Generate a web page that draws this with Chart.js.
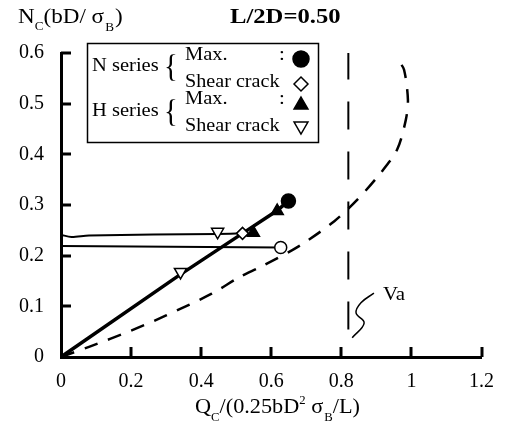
<!DOCTYPE html>
<html>
<head>
<meta charset="utf-8">
<script src="https://cdn.jsdelivr.net/npm/chart.js@4.4.0/dist/chart.umd.min.js"></script>
<style>
  html, body { margin: 0; padding: 0; background: #fff; }
  #wrap { width: 507px; height: 430px; position: relative; }
</style>
</head>
<body>
<div id="wrap"><canvas id="chart"></canvas></div>
<script>
// tick labels
var xTicks = [0, 0.2, 0.4, 0.6, 0.8, 1, 1.2];
var yTicks = [0, 0.1, 0.2, 0.3, 0.4, 0.5, 0.6];
var xTickLabels = ['0', '0.2', '0.4', '0.6', '0.8', '1', '1.2'];
var yTickLabels = ['0', '0.1', '0.2', '0.3', '0.4', '0.5', '0.6'];

// N series
var nMaxX = [0.649];
var nMaxY = [0.308];
var nCrackX = [0.518];
var nCrackY = [0.244];
var nOpenX = [0.627];
var nOpenY = [0.216];

// H series
var hMaxX = [0.549, 0.617];
var hMaxY = [0.245, 0.288];
var hCrackX = [0.341, 0.447];
var hCrackY = [0.168, 0.247];

// test paths
var mainLineX = [0, 0.341, 0.518, 0.617, 0.649];
var mainLineY = [0, 0.163, 0.244, 0.289, 0.308];
var upperLineX = [0, 0.03, 0.08, 0.447, 0.518];
var upperLineY = [0.241, 0.237, 0.240, 0.243, 0.244];
var lowerLineX = [0, 0.627];
var lowerLineY = [0.219, 0.216];

// calculated curve (dashed)
var curveX = [0, 0.08, 0.2, 0.3, 0.43, 0.51, 0.57, 0.66, 0.70, 0.78, 0.845, 0.913, 0.959, 0.984, 0.99, 0.979, 0.963];
var curveY = [0, 0.02, 0.052, 0.082, 0.125, 0.158, 0.178, 0.211, 0.228, 0.268, 0.31, 0.364, 0.409, 0.468, 0.508, 0.567, 0.585];

// Va line (top to bottom) and its pointer
var vaX = [0.82, 0.82];
var vaY = [0.603, 0.043];
var squiggleX = [0.893, 0.856, 0.842, 0.865, 0.831];
var squiggleY = [0.126, 0.107, 0.087, 0.067, 0.038];

function pts(xs, ys) {
    return xs.map(function (x, i) { return { x: x, y: ys[i] }; });
}

var SERIF = "'Liberation Serif', 'DejaVu Serif', serif";

// draw text runs with sub/superscripts, slightly stretched like the scan
function drawRuns(ctx, x, y, runs, sx) {
    sx = sx || 1.1;
    ctx.save();
    ctx.translate(x, y);
    ctx.scale(sx, 1);
    var cx = 0;
    runs.forEach(function (r) {
        ctx.font = (r.bold ? 'bold ' : '') + r.size + 'px ' + SERIF;
        ctx.fillText(r.t, cx, r.dy || 0);
        cx += ctx.measureText(r.t).width + (r.gap || 0);
    });
    ctx.restore();
}

var decor = {
    id: 'decor',
    afterDraw: function (chart) {
        var ctx = chart.ctx;
        var xs = chart.scales.x, ys = chart.scales.y;
        var area = chart.chartArea;
        ctx.save();

        // inward ticks
        ctx.strokeStyle = '#000';
        ctx.lineWidth = 3;
        yTicks.forEach(function (v) {
            if (v === 0) return;
            var py = Math.round(ys.getPixelForValue(v));
            ctx.beginPath();
            ctx.moveTo(area.left, py);
            ctx.lineTo(area.left + 10, py);
            ctx.stroke();
        });
        xTicks.forEach(function (v) {
            if (v === 0) return;
            var px = Math.round(xs.getPixelForValue(v));
            ctx.beginPath();
            ctx.moveTo(px, area.bottom);
            ctx.lineTo(px, area.bottom - 10);
            ctx.stroke();
        });

        ctx.fillStyle = '#000';
        ctx.textAlign = 'left';
        ctx.textBaseline = 'alphabetic';

        // axis titles
        drawRuns(ctx, 18, 23, [
            { t: 'N', size: 21 },
            { t: 'C', size: 12, dy: 7 },
            { t: '(bD/ ', size: 21 },
            { t: 'σ', size: 21, gap: 1 },
            { t: 'B', size: 12, dy: 8, gap: 1 },
            { t: ')', size: 21 }
        ], 1.1);
        drawRuns(ctx, 195, 413, [
            { t: 'Q', size: 21 },
            { t: 'C', size: 12, dy: 8 },
            { t: '/(0.25bD', size: 21 },
            { t: '2', size: 12, dy: -9 },
            { t: ' σ', size: 21, gap: 1 },
            { t: 'B', size: 12, dy: 8 },
            { t: '/L)', size: 21 }
        ], 1.06);

        // title
        drawRuns(ctx, 230, 23, [{ t: 'L/2D=0.50', size: 22, bold: true }], 1.12);

        // Va label
        drawRuns(ctx, 383, 300, [{ t: 'Va', size: 19 }]);

        // legend box
        ctx.lineWidth = 1.5;
        ctx.strokeRect(87.5, 43.5, 231, 99);
        drawRuns(ctx, 92, 71, [{ t: 'N series', size: 19 }], 1.08);
        drawRuns(ctx, 92, 116, [{ t: 'H series', size: 19 }], 1.08);
        drawRuns(ctx, 164, 77, [{ t: '{', size: 32 }], 0.9);
        drawRuns(ctx, 164, 122, [{ t: '{', size: 32 }], 0.9);
        drawRuns(ctx, 185, 60, [{ t: 'Max.', size: 19 }], 1.08);
        drawRuns(ctx, 185, 87, [{ t: 'Shear crack', size: 19 }], 1.06);
        drawRuns(ctx, 185, 104, [{ t: 'Max.', size: 19 }], 1.08);
        drawRuns(ctx, 185, 131, [{ t: 'Shear crack', size: 19 }], 1.06);
        drawRuns(ctx, 279, 60, [{ t: ':', size: 19 }]);
        drawRuns(ctx, 279, 104, [{ t: ':', size: 19 }]);

        var dp = Chart.helpers.drawPoint;
        ctx.lineWidth = 1.5;
        ctx.fillStyle = '#000';
        dp(ctx, { pointStyle: 'circle', radius: 8, rotation: 0, borderWidth: 1.5 }, 301, 59);
        dp(ctx, { pointStyle: 'triangle', radius: 8, rotation: 0, borderWidth: 1.5 }, 301, 105);
        ctx.fillStyle = '#fff';
        dp(ctx, { pointStyle: 'rectRot', radius: 7, rotation: 0, borderWidth: 1.5 }, 301, 84);
        dp(ctx, { pointStyle: 'triangle', radius: 8, rotation: 180, borderWidth: 1.5 }, 301, 126);

        ctx.restore();
    }
};

var marker = function (style, fill, r, rot) {
    return {
        showLine: false,
        pointStyle: style,
        pointRadius: r,
        pointRotation: rot || 0,
        pointBackgroundColor: fill,
        pointBorderColor: '#000',
        pointBorderWidth: 1.5
    };
};

var line = function (width, dash, tension) {
    return {
        showLine: true,
        pointRadius: 0,
        borderColor: '#000',
        borderWidth: width,
        borderDash: dash || [],
        tension: tension || 0,
        fill: false
    };
};

var ctx = document.getElementById('chart').getContext('2d');
var chart = new Chart(ctx, {
    type: 'scatter',
    data: {
        datasets: [
            Object.assign({ data: pts(nMaxX, nMaxY) }, marker('circle', '#000', 7)),
            Object.assign({ data: pts(hMaxX, hMaxY) }, marker('triangle', '#000', 7)),
            Object.assign({ data: pts(nCrackX, nCrackY) }, marker('rectRot', '#fff', 6)),
            Object.assign({ data: pts(nOpenX, nOpenY) }, marker('circle', '#fff', 6)),
            Object.assign({ data: pts(hCrackX, hCrackY) }, marker('triangle', '#fff', 7, 180)),
            Object.assign({ data: pts(mainLineX, mainLineY) }, line(3.5)),
            Object.assign({ data: pts(upperLineX, upperLineY) }, line(2, [], 0.3)),
            Object.assign({ data: pts(lowerLineX, lowerLineY) }, line(2)),
            Object.assign({ data: pts(curveX, curveY) }, line(2.5, [14, 11], 0.3)),
            Object.assign({ data: pts(vaX, vaY) }, line(2, [28, 22])),
            Object.assign({ data: pts(squiggleX, squiggleY) }, line(1.5, [], 0.4))
        ]
    },
    options: {
        responsive: true,
        maintainAspectRatio: false,
        animation: false,
        layout: { padding: { top: 53, right: 25, left: 0, bottom: 0 } },
        scales: {
            x: {
                type: 'linear',
                min: 0, max: 1.2,
                afterFit: function (s) { s.height = 73; },
                afterBuildTicks: function (s) { s.ticks = xTicks.map(function (v) { return { value: v }; }); },
                grid: { display: true, drawOnChartArea: false, drawTicks: false },
                border: { display: true, color: '#000', width: 3 },
                ticks: {
                    padding: 13,
                    color: '#000',
                    font: { family: SERIF, size: 20 },
                    callback: function (v) { return xTickLabels[xTicks.indexOf(v)]; }
                }
            },
            y: {
                type: 'linear',
                min: 0, max: 0.6,
                afterFit: function (s) { s.width = 61; },
                afterBuildTicks: function (s) { s.ticks = yTicks.map(function (v) { return { value: v }; }); },
                grid: { display: true, drawOnChartArea: false, drawTicks: false },
                border: { display: true, color: '#000', width: 3 },
                ticks: {
                    padding: 17,
                    color: '#000',
                    font: { family: SERIF, size: 20 },
                    callback: function (v) { return yTickLabels[yTicks.indexOf(v)]; }
                }
            }
        },
        plugins: {
            legend: { display: false },
            tooltip: { enabled: false }
        }
    },
    plugins: [decor]
});
</script>
</body>
</html>
